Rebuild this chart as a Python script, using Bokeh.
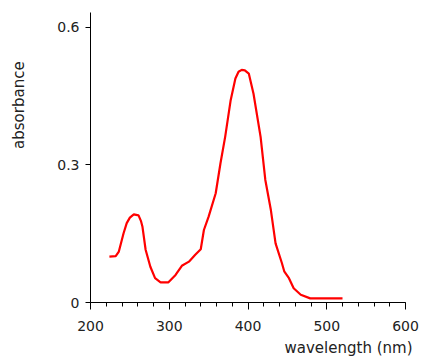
import math
from bokeh.plotting import figure
from bokeh.models import Range1d, FixedTicker, Title
from bokeh.layouts import row
from bokeh.core.properties import value
from bokeh.embed import file_html
from bokeh.resources import INLINE

# wavelength (nm) and absorbance
wavelength = [224, 232, 236, 242, 246, 250, 255, 261, 264, 266, 270, 276, 282, 289,
              299, 308, 316, 325, 333, 340, 344, 350, 359, 365, 371, 378, 384, 388,
              392, 396, 401, 407, 416, 422, 429, 435, 443, 446, 452, 458, 467, 479,
              500, 520]
absorbance = [0.100, 0.101, 0.111, 0.151, 0.173, 0.185, 0.192, 0.190, 0.178, 0.165,
              0.115, 0.078, 0.053, 0.044, 0.044, 0.060, 0.080, 0.089, 0.104, 0.116,
              0.158, 0.187, 0.238, 0.303, 0.361, 0.441, 0.488, 0.503, 0.507, 0.506,
              0.499, 0.455, 0.361, 0.267, 0.202, 0.129, 0.086, 0.068, 0.053, 0.031,
              0.017, 0.009, 0.009, 0.009]
y_ticks = [0, 0.3, 0.6]
x_ticks = [200, 300, 400, 500, 600]
y_label = "absorbance"
x_label = "wavelength (nm)"

font = "DejaVu Sans"

# narrow strip holding the vertical axis title
lab = figure(width=30, height=360, output_backend="svg", toolbar_location=None,
             x_range=Range1d(0, 30), y_range=Range1d(0, 360),
             x_axis_type=None, y_axis_type=None, min_border=0)
lab.outline_line_color = None
lab.xgrid.visible = False
lab.ygrid.visible = False
lab.text(x=[18], y=[245], text=[y_label], angle=math.pi / 2,
         text_align="center", text_baseline="middle",
         text_font=value(font), text_font_size="15px", text_color="#222222")

p = figure(width=390, height=360, output_backend="svg", toolbar_location=None,
           x_range=Range1d(200, 600), y_range=Range1d(0, 0.632),
           min_border_left=60, min_border_right=15, min_border_top=12,
           min_border_bottom=55)
p.outline_line_color = None
p.xgrid.visible = False
p.ygrid.visible = False
p.background_fill_color = "white"

p.line(wavelength, absorbance, line_color="#ff0000", line_width=2.2)

p.xaxis.ticker = FixedTicker(ticks=x_ticks, minor_ticks=list(range(200, 601, 20)))
p.yaxis.ticker = FixedTicker(ticks=y_ticks, minor_ticks=[])
p.yaxis.major_label_overrides = {0: "0"}
for ax in (p.xaxis[0], p.yaxis[0]):
    ax.axis_line_color = "black"
    ax.major_tick_line_color = "black"
    ax.minor_tick_line_color = "black"
    ax.major_tick_in = 0
    ax.minor_tick_in = 0
    ax.major_label_text_font = font
    ax.major_label_text_font_size = "14px"
    ax.major_label_text_color = "#222222"
p.xaxis.major_tick_out = 7
p.xaxis.minor_tick_out = 4
p.yaxis.major_tick_out = 5
p.yaxis.minor_tick_out = 0
p.xaxis.major_label_standoff = 11
p.yaxis.major_label_standoff = 6

p.add_layout(Title(text=x_label, align="right", text_font=font,
                   text_font_size="15px", text_font_style="normal",
                   text_color="#222222", standoff=7, offset=-7), "below")

layout = row(lab, p)
open("out.html", "w").write(file_html(layout, INLINE))
